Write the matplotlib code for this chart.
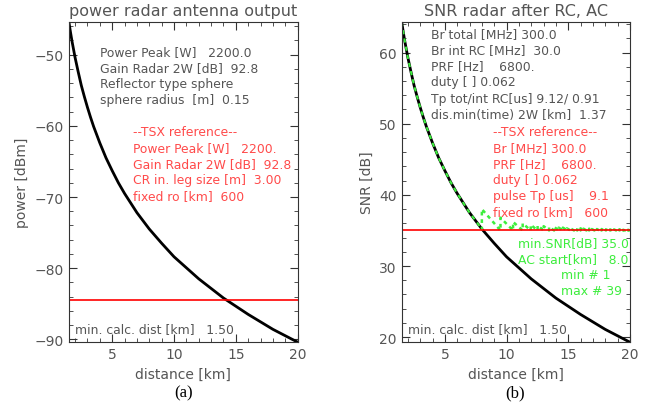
import matplotlib
matplotlib.use('Agg')
import matplotlib.pyplot as plt
from matplotlib.ticker import MultipleLocator

# distance grid [km] and curves
dist_km = [1.5, 1.625, 1.75, 2.0, 2.25, 2.5, 2.75, 3.0, 3.25, 3.5, 4.0, 4.5, 5.0, 5.5, 6.0,
           7.0, 8.0, 9.0, 10.0, 12.0, 14.0, 16.0, 18.0, 20.0]
power_dbm = [-45.4, -46.8, -48.1, -50.4, -52.4, -54.3, -55.9, -57.4, -58.8, -60.1, -62.4,
             -64.5, -66.3, -68.0, -69.5, -72.2, -74.5, -76.5, -78.4, -81.5, -84.2, -86.5,
             -88.6, -90.4]
snr_db = [64.3, 62.9, 61.6, 59.3, 57.3, 55.4, 53.8, 52.3, 50.9, 49.6, 47.3,
          45.2, 43.4, 41.7, 40.2, 37.5, 35.2, 33.2, 31.3, 28.2, 25.5, 23.2,
          21.1, 19.3]
power_thresh = -84.45
snr_min = 35.0
ac_start = 8.0

# azimuth compression: distance where one more pulse is added, and SNR right after it
ac_jump_km = [8.00, 9.51, 10.53, 11.31, 11.96, 12.52, 13.01, 13.45, 13.86, 14.23,
              14.57, 14.89, 15.19, 15.47, 15.74, 16.00, 16.24, 16.48, 16.70, 16.92,
              17.13, 17.33, 17.52, 17.71, 17.89, 18.06, 18.24, 18.40, 18.56, 18.72,
              18.88, 19.03, 19.17, 19.32, 19.46, 19.60, 19.73, 19.86, 19.99]
ac_peak_db = [38.0, 36.8, 36.2, 36.0, 35.8, 35.7, 35.6, 35.5, 35.5, 35.4,
              35.4, 35.3, 35.3, 35.3, 35.3, 35.3, 35.25, 35.25, 35.25, 35.2,
              35.2, 35.2, 35.2, 35.2, 35.2, 35.15, 35.15, 35.15, 35.15, 35.15,
              35.15, 35.15, 35.15, 35.15, 35.1, 35.1, 35.1, 35.1, 35.1]

left_black = ["Power Peak [W]   2200.0", "Gain Radar 2W [dB]  92.8",
              "Reflector type sphere", "sphere radius  [m]  0.15"]
left_red = ["--TSX reference--", "Power Peak [W]   2200.", "Gain Radar 2W [dB]  92.8",
            "CR in. leg size [m]  3.00", "fixed ro [km]  600"]
right_black = ["Br total [MHz] 300.0", "Br int RC [MHz]  30.0", "PRF [Hz]    6800.",
               "duty [ ] 0.062", "Tp tot/int RC[us] 9.12/ 0.91", "dis.min(time) 2W [km]  1.37"]
right_red = ["--TSX reference--", "Br [MHz] 300.0", "PRF [Hz]    6800.", "duty [ ] 0.062",
             "pulse Tp [us]    9.1", "fixed ro [km]   600"]
right_green = ["min.SNR[dB] 35.0", "AC start[km]   8.0"]
right_green2 = ["min # 1", "max # 39"]

gray = '#555555'
red_txt = '#ff4a4a'
green = '#3ded3d'
plt.rcParams['font.family'] = ['DejaVu Sans']
fs = 8.9

fig = plt.figure(figsize=(6.5, 4.1), dpi=100)
ax1 = fig.add_axes([0.106, 0.163, 0.352, 0.781])
ax2 = fig.add_axes([0.618, 0.163, 0.351, 0.781])

for ax in (ax1, ax2):
    ax.set_xlim(1.5, 20)
    ax.xaxis.set_major_locator(MultipleLocator(5))
    ax.xaxis.set_minor_locator(MultipleLocator(1))
    ax.yaxis.set_major_locator(MultipleLocator(10))
    ax.yaxis.set_minor_locator(MultipleLocator(2))
    ax.tick_params(which='both', direction='in', top=True, right=True,
                   colors='#333333', labelcolor=gray, labelsize=10)
    ax.tick_params(which='major', length=6)
    ax.tick_params(which='minor', length=3)
    for s in ax.spines.values():
        s.set_color('#333333')
    ax.set_xlabel('distance [km]', color=gray, fontsize=10, labelpad=4)

# (a)
ax1.plot(dist_km, power_dbm, color='black', lw=2.0)
ax1.axhline(power_thresh, color='red', lw=1.2)
ax1.set_ylim(min(power_dbm), max(power_dbm))
ax1.set_ylabel('power [dBm]', color=gray, fontsize=10)
ax1.set_title('power radar antenna output', color=gray, fontsize=11.5, pad=5)
for i, t in enumerate(left_black):
    ax1.text(0.135, 0.909 - i * 0.05, t, transform=ax1.transAxes, color=gray,
             fontsize=fs, va='center')
for i, t in enumerate(left_red):
    ax1.text(0.28, 0.659 - i * 0.05, t, transform=ax1.transAxes, color=red_txt,
             fontsize=fs, va='center')
ax1.text(0.026, 0.044, 'min. calc. dist [km]   1.50', transform=ax1.transAxes,
         color=gray, fontsize=fs, va='center')

# (b)
ax2.plot(dist_km, snr_db, color='black', lw=2.0)
rc_x = [d for d in dist_km if d <= ac_start]
rc_y = snr_db[:len(rc_x)]
ax2.plot(rc_x, rc_y, color=green, lw=1.5, dashes=(2, 2))
saw_x, saw_y = [], []
for i, x in enumerate(ac_jump_km):
    saw_x += [x, x]
    saw_y += [snr_min, ac_peak_db[i]]
saw_x.append(20.0)
saw_y.append(snr_min + 0.05)
ax2.plot(saw_x, saw_y, color=green, lw=1.8, dashes=(1.5, 1.5))
ax2.axhline(snr_min, color='red', lw=1.2)
ax2.set_ylim(min(snr_db), max(snr_db))
ax2.set_ylabel('SNR [dB]', color=gray, fontsize=10)
ax2.set_title('SNR radar after RC, AC', color=gray, fontsize=11.5, pad=5)
for i, t in enumerate(right_black):
    ax2.text(0.13, 0.9625 - i * 0.05, t, transform=ax2.transAxes, color=gray,
             fontsize=fs, va='center')
for i, t in enumerate(right_red):
    ax2.text(0.40, 0.659 - i * 0.05, t, transform=ax2.transAxes, color=red_txt,
             fontsize=fs, va='center')
for i, t in enumerate(right_green):
    ax2.text(0.51, 0.3125 - i * 0.05, t, transform=ax2.transAxes, color=green,
             fontsize=fs, va='center')
for i, t in enumerate(right_green2):
    ax2.text(0.70, 0.2125 - i * 0.05, t, transform=ax2.transAxes, color=green,
             fontsize=fs, va='center')
ax2.text(0.026, 0.044, 'min. calc. dist [km]   1.50', transform=ax2.transAxes,
         color=gray, fontsize=fs, va='center')

fig.text(0.283, 0.04, '(a)', ha='center', va='center', fontsize=12,
         family='Liberation Serif', color='black')
fig.text(0.793, 0.04, '(b)', ha='center', va='center', fontsize=12,
         family='Liberation Serif', color='black')

fig.savefig('out.png', dpi=100)
